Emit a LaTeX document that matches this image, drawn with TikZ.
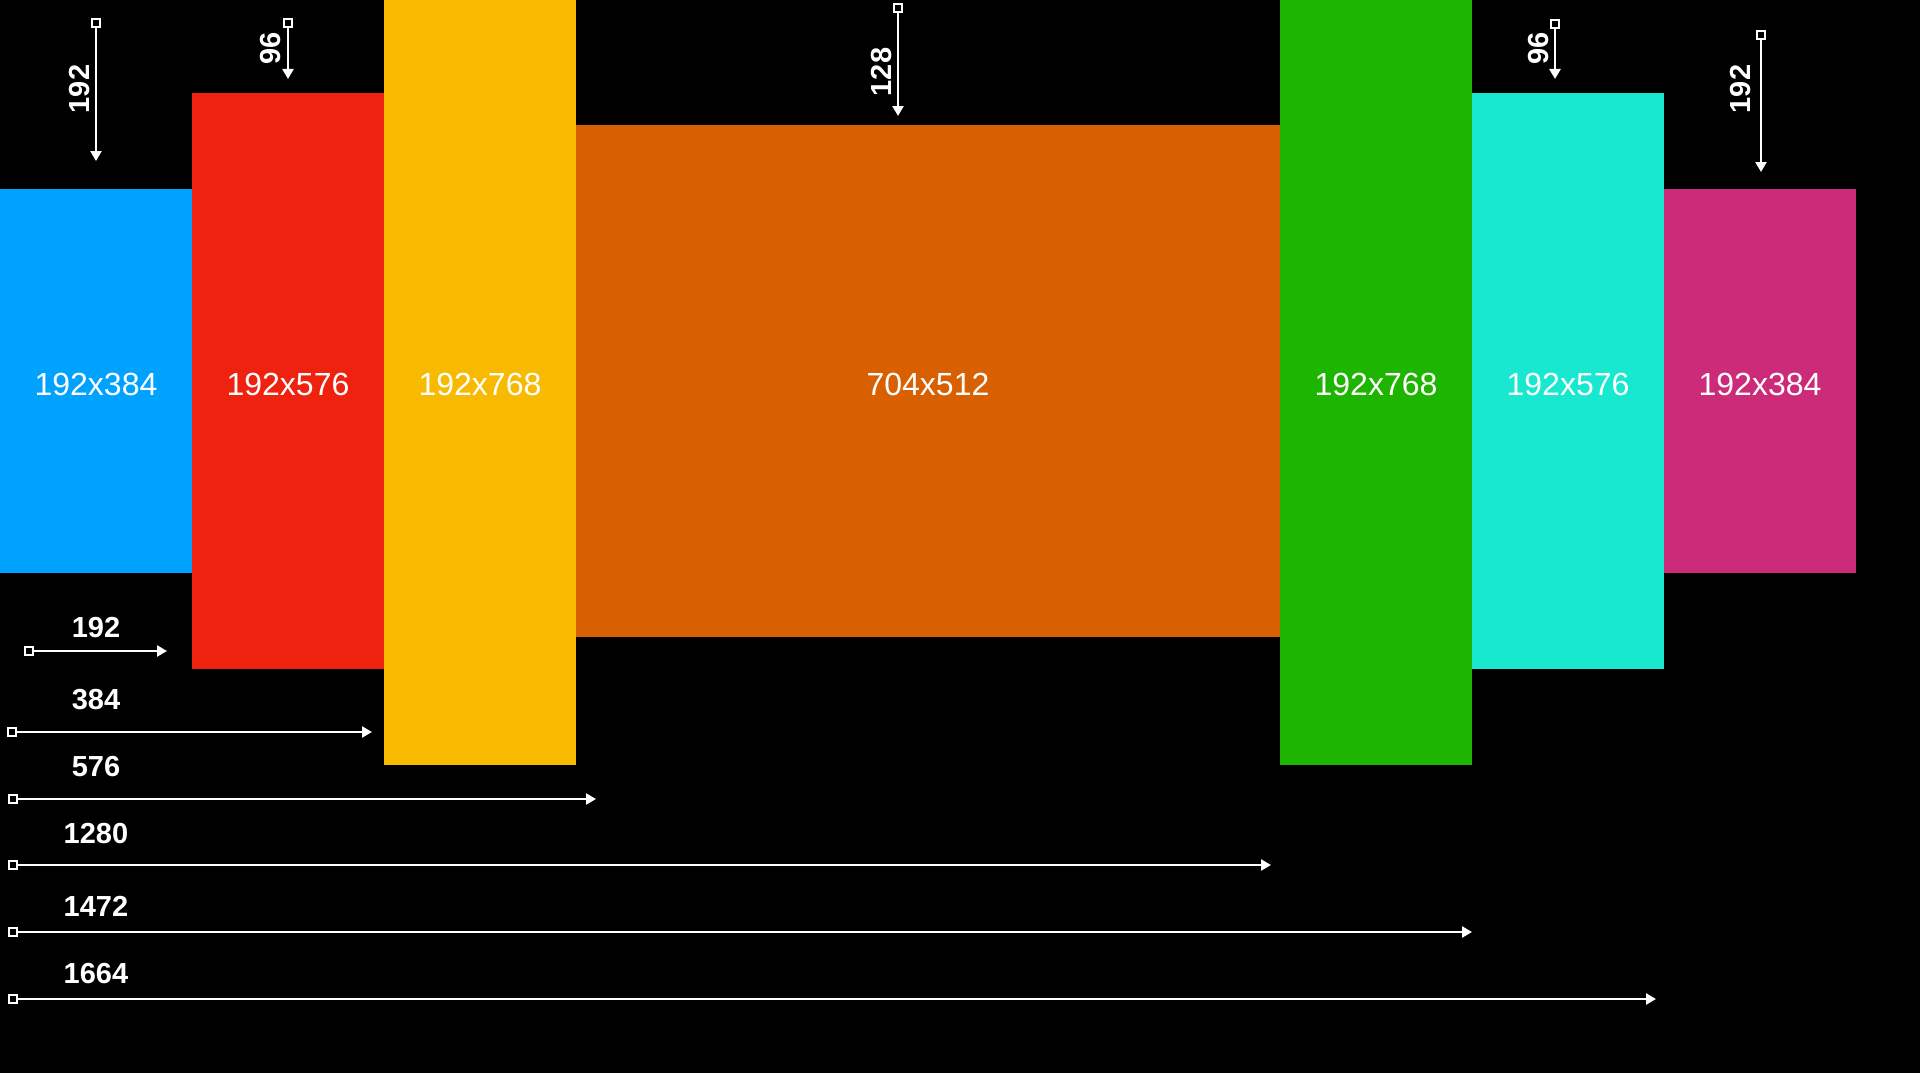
\documentclass[tikz,border=0pt]{standalone}
\usepackage{fontspec}
\setmainfont{Liberation Sans}
\usetikzlibrary{arrows.meta}
\definecolor{cblue}{RGB}{0,162,255}
\definecolor{cred}{RGB}{238,34,14}
\definecolor{cyellow}{RGB}{248,186,0}
\definecolor{corange}{RGB}{216,96,0}
\definecolor{cgreen}{RGB}{29,181,0}
\definecolor{ccyan}{RGB}{23,232,207}
\definecolor{cmagenta}{RGB}{204,43,122}
\newcommand{\boxtext}[1]{\raisebox{-3pt}[\height][0pt]{#1}}
\begin{document}
\begin{tikzpicture}[x=1pt,y=-1pt,
  box/.style={inner sep=0pt, outer sep=0pt, text=white, font=\fontsize{32}{36}\selectfont},
  dimlabel/.style={text=white, font=\bfseries\fontsize{29}{32}\selectfont, inner sep=0pt},
  startsq/.style={draw=white, fill=black, line width=1.8pt, minimum size=8pt, inner sep=0pt},
  dimarrow/.style={draw=white, line width=2.4pt, -{Triangle[length=10pt,width=11pt]}}]
\fill[black] (0,0) rectangle (1920,1073);
\useasboundingbox (0,0) rectangle (1920,1073);
\clip (0,0) rectangle (1920,1073);
% boxes
\node[box, fill=cblue, minimum width=192pt, minimum height=384pt] (b1) at (96,381) {\boxtext{192x384}};
\node[box, fill=cred, minimum width=192pt, minimum height=576pt] (b2) at (288,381) {\boxtext{192x576}};
\node[box, fill=cyellow, minimum width=192pt, minimum height=768pt] (b3) at (480,381) {\boxtext{192x768}};
\node[box, fill=corange, minimum width=704pt, minimum height=512pt] (b4) at (928,381) {\boxtext{704x512}};
\node[box, fill=cgreen, minimum width=192pt, minimum height=768pt] (b5) at (1376,381) {\boxtext{192x768}};
\node[box, fill=ccyan, minimum width=192pt, minimum height=576pt] (b6) at (1568,381) {\boxtext{192x576}};
\node[box, fill=cmagenta, minimum width=192pt, minimum height=384pt] (b7) at (1760,381) {\boxtext{192x384}};
% vertical offsets
\node[startsq] (vs1) at (96,23) {};
\coordinate (vt1) at (96,161);
\draw[dimarrow] (vs1) -- (vt1);
\node[dimlabel, rotate=90] (vl1) at (80,89) {192};
\node[startsq] (vs2) at (288,23) {};
\coordinate (vt2) at (288,79);
\draw[dimarrow] (vs2) -- (vt2);
\node[dimlabel, rotate=90] (vl2) at (271,48) {96};
\node[startsq] (vs3) at (898,8) {};
\coordinate (vt3) at (898,116);
\draw[dimarrow] (vs3) -- (vt3);
\node[dimlabel, rotate=90] (vl3) at (882,72) {128};
\node[startsq] (vs4) at (1555,24) {};
\coordinate (vt4) at (1555,79);
\draw[dimarrow] (vs4) -- (vt4);
\node[dimlabel, rotate=90] (vl4) at (1538,48) {96};
\node[startsq] (vs5) at (1761,35) {};
\coordinate (vt5) at (1761,172);
\draw[dimarrow] (vs5) -- (vt5);
\node[dimlabel, rotate=90] (vl5) at (1740,89) {192};
% horizontal widths
\node[startsq] (hs1) at (29,651) {};
\coordinate (ht1) at (167,651);
\draw[dimarrow] (hs1) -- (ht1);
\node[dimlabel] (hl1) at (96,628) {192};
\node[startsq] (hs2) at (12,732) {};
\coordinate (ht2) at (372,732);
\draw[dimarrow] (hs2) -- (ht2);
\node[dimlabel] (hl2) at (96,700) {384};
\node[startsq] (hs3) at (13,799) {};
\coordinate (ht3) at (596,799);
\draw[dimarrow] (hs3) -- (ht3);
\node[dimlabel] (hl3) at (96,767) {576};
\node[startsq] (hs4) at (13,865) {};
\coordinate (ht4) at (1271,865);
\draw[dimarrow] (hs4) -- (ht4);
\node[dimlabel] (hl4) at (96,834) {1280};
\node[startsq] (hs5) at (13,932) {};
\coordinate (ht5) at (1472,932);
\draw[dimarrow] (hs5) -- (ht5);
\node[dimlabel] (hl5) at (96,906) {1472};
\node[startsq] (hs6) at (13,999) {};
\coordinate (ht6) at (1656,999);
\draw[dimarrow] (hs6) -- (ht6);
\node[dimlabel] (hl6) at (96,974) {1664};
\end{tikzpicture}
\end{document}
